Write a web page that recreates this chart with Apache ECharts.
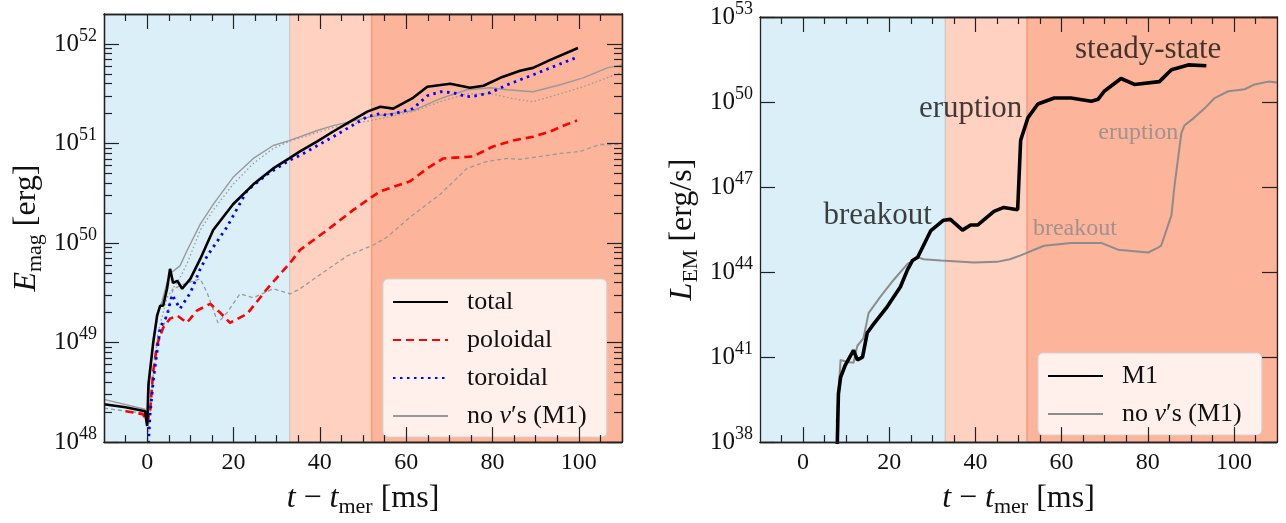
<!DOCTYPE html>
<html>
<head>
<meta charset="utf-8">
<script src="https://cdn.jsdelivr.net/npm/echarts@6/dist/echarts.min.js"></script>
<style>
  html, body { margin: 0; padding: 0; background: #fff; }
  #chart { width: 1286px; height: 523px; }
</style>
</head>
<body>
<div id="chart"></div>
<script>
// phase bands in t - t_mer [ms]
const bands = [[-10, 33], [33, 52], [52, 110]];

// ticks
const xMajor = [0, 20, 40, 60, 80, 100];
const xMinor = [-5, 5, 10, 15, 25, 30, 35, 45, 50, 55, 65, 70, 75, 85, 90, 95, 105];
const eMajor = [1e48, 1e49, 1e50, 1e51, 1e52];
const lMajor = [1e38, 1e41, 1e44, 1e47, 1e50, 1e53];

// left panel: E_mag [erg]  ([t, E])
const total = [[-10, 2.40e48], [-5, 2.24e48], [-0.5, 2.04e48], [0, 1.45e48], [0.3, 3.80e48], [1.4, 1.00e49],
  [2.3, 1.86e49], [3.0, 2.34e49], [3.7, 2.34e49], [4.6, 3.47e49], [5.3, 5.50e49], [6.0, 3.98e49], [7.0, 4.17e49],
  [8.1, 3.47e49], [10, 4.37e49], [12.3, 6.92e49], [15.3, 1.35e50], [19.9, 2.45e50], [24.6, 3.89e50],
  [29.2, 5.62e50], [32.9, 7.08e50], [35.4, 8.32e50], [39.4, 1.05e51], [43.1, 1.32e51], [47, 1.66e51],
  [51, 2.09e51], [54, 2.34e51], [57, 2.24e51], [61.6, 2.88e51], [64.9, 3.72e51], [70.2, 3.98e51],
  [74.8, 3.63e51], [77.9, 3.80e51], [81.8, 4.57e51], [86.4, 5.37e51], [89.4, 5.75e51], [93.4, 6.92e51],
  [99.8, 9.12e51]];
const poloidal = [[-5, 2.04e48], [-1, 1.91e48], [0, 1.58e48], [0.7, 2.09e48], [1.4, 5.13e48], [2.3, 9.55e48],
  [3.7, 1.41e49], [5.3, 1.74e49], [7.0, 1.86e49], [9.2, 1.58e49], [11.5, 2.09e49], [14.6, 2.45e49],
  [16.9, 2.00e49], [19.2, 1.58e49], [23.2, 1.95e49], [27.8, 3.47e49], [33.1, 6.31e49], [35.4, 8.51e49],
  [41.7, 1.35e50], [47.7, 2.14e50], [51.9, 2.88e50], [54, 3.31e50], [60.9, 4.17e50], [64.9, 5.62e50],
  [68.6, 7.08e50], [75.5, 7.41e50], [80.1, 9.33e50], [84.8, 1.07e51], [89.4, 1.17e51], [93.4, 1.32e51],
  [96.4, 1.51e51], [99.6, 1.70e51]];
const toroidal = [[0, 6.0e47], [0.7, 1.95e48], [1.4, 4.07e48], [3.0, 1.41e49], [4.6, 1.86e49], [5.3, 2.51e49],
  [5.8, 3.02e49], [7.6, 2.19e49], [10, 3.16e49], [12.3, 5.50e49], [13.9, 7.41e49], [18.5, 1.45e50],
  [23.2, 3.39e50], [27.8, 4.90e50], [32.9, 6.76e50], [35.4, 7.59e50], [43.1, 1.17e51], [51, 1.86e51],
  [54, 2.00e51], [55.6, 1.91e51], [61.6, 2.24e51], [64.9, 3.02e51], [67.9, 3.31e51], [70.9, 3.24e51],
  [74.1, 2.95e51], [76.4, 3.02e51], [79.5, 3.24e51], [83.4, 3.89e51], [89.4, 4.90e51], [94, 5.89e51],
  [99.8, 7.41e51]];
const noNuTotal = [[-10, 2.69e48], [-0.5, 2.14e48], [0, 1.58e48], [0.5, 3.98e48], [1.5, 1.12e49], [2.5, 2.00e49],
  [3.5, 2.63e49], [4.6, 3.98e49], [5.5, 5.01e49], [7.6, 5.89e49], [9.3, 8.51e49], [12.3, 1.55e50],
  [15.3, 2.45e50], [19.9, 4.57e50], [24.6, 7.08e50], [29.2, 9.55e50], [32.9, 1.07e51], [39.4, 1.35e51],
  [43.1, 1.51e51], [51.9, 1.86e51], [61.6, 2.14e51], [67.9, 2.82e51], [74.1, 3.47e51], [79.5, 3.63e51],
  [83.4, 3.47e51], [89.4, 3.31e51], [95.7, 3.89e51], [101, 4.57e51], [106.6, 5.75e51], [110, 6.17e51]];
const noNuToroidal = [[0, 8.0e47], [1, 3.16e48], [2.5, 1.26e49], [4.6, 2.82e49], [7.6, 4.47e49], [9.3, 6.31e49],
  [12.3, 1.35e50], [15.3, 2.14e50], [19.9, 3.89e50], [24.6, 6.31e50], [29.2, 8.91e50], [32.9, 1.05e51],
  [43.1, 1.45e51], [51.9, 1.70e51], [61.6, 2.09e51], [67.9, 2.63e51], [74.1, 3.16e51], [79.5, 3.16e51],
  [84.8, 2.82e51], [89.4, 2.63e51], [95.7, 3.16e51], [101, 3.72e51], [109.6, 5.13e51]];
const noNuPoloidal = [[-10, 2.19e48], [-0.9, 1.95e48], [0, 1.58e48], [1, 3.16e48], [2.5, 1.00e49], [4.6, 1.86e49],
  [6, 3.47e49], [9.3, 3.98e49], [12.3, 4.37e49], [13.9, 3.16e49], [16.4, 1.58e49], [18.5, 2.00e49],
  [21.5, 3.09e49], [24.6, 2.82e49], [29.2, 3.47e49], [33.1, 3.09e49], [35.4, 3.47e49], [40, 4.79e49],
  [46.3, 7.41e49], [52.4, 9.55e49], [55.6, 1.15e50], [60.9, 1.82e50], [67.9, 3.09e50], [74.1, 5.62e50],
  [78.8, 6.61e50], [83.4, 7.08e50], [86.4, 6.92e50], [95.7, 7.94e50], [100.3, 8.32e50], [104.9, 9.77e50],
  [109.6, 9.77e50]];

// right panel: L_EM [erg/s]  ([t, L])
const lumM1 = [[7.9, 5e37], [8.2, 5.01e39], [8.7, 1.91e40], [9.8, 5.25e40], [11.7, 1.74e41], [12.6, 7.94e40],
  [13.8, 1.00e41], [14.9, 7.24e41], [16.4, 1.48e42], [19.6, 6.17e42], [22.6, 3.02e43], [24.2, 1.17e44],
  [25.4, 2.57e44], [26.6, 3.31e44], [29.6, 2.82e45], [32.6, 6.76e45], [34.2, 7.24e45], [37, 3.02e45],
  [38.9, 4.57e45], [40.5, 4.57e45], [44.3, 1.38e46], [46.6, 1.91e46], [49.8, 1.58e46], [50.5, 4.47e48],
  [52.2, 2.82e49], [54.5, 8.51e49], [58.3, 1.38e50], [62.2, 1.38e50], [66.9, 1.07e50], [68.5, 1.26e50],
  [69.9, 2.40e50], [73.8, 6.76e50], [76.9, 4.17e50], [82.7, 5.25e50], [85.5, 1.38e51], [89.4, 2.04e51],
  [93.6, 1.91e51]];
const lumNoNu = [[7.8, 5e38], [8.7, 7.94e40], [10.3, 6.76e40], [11.7, 6.31e40], [12.6, 2.51e41], [14, 4.57e41],
  [15.2, 3.55e42], [18, 1.38e43], [21, 5.25e43], [24.2, 1.91e44], [26.6, 3.31e44], [28, 2.82e44],
  [32, 2.57e44], [39.7, 2.19e44], [45, 2.29e44], [48, 2.82e44], [50.5, 3.89e44], [55.9, 8.51e44],
  [62.2, 1.07e45], [69.2, 1.07e45], [73.1, 6.17e44], [80.1, 4.90e44], [82.4, 7.24e44], [83.1, 8.51e44],
  [85.5, 1.00e46], [86.2, 1.07e47], [87.8, 7.94e48], [88.5, 1.48e49], [90.8, 2.82e49], [93.1, 5.75e49],
  [95.5, 1.38e50], [98.7, 2.40e50], [102.5, 2.82e50], [104.8, 4.17e50], [108, 5.25e50], [110, 4.90e50]];

// annotations on the right panel: [t, L, text, colour, size]
const notes = [
  [80.1, 6.8e51, 'steady-state', '#111', 31],
  [38.9, 5.75e49, 'eruption', '#111', 31],
  [17.3, 9.3e45, 'breakout', '#111', 31],
  [77.8, 8.5e48, 'eruption', '#8a8a8a', 24],
  [63.1, 3.3e45, 'breakout', '#8a8a8a', 24]
];

const FONT = '"Liberation Serif", "DejaVu Serif", serif';
const AX = '#222';

// 2..9 x 10^e minor ticks of a log axis
function minorDecades(lo, hi, maxV) {
  const out = [];
  for (let e = lo; e <= hi; e++) {
    for (let k = 2; k <= 9; k++) {
      const v = k * Math.pow(10, e);
      if (v < maxV) out.push(v);
    }
  }
  return out;
}

const powRich = {
  b: { fontSize: 25, lineHeight: 34, fontFamily: FONT, color: '#111' },
  s: { fontSize: 18, lineHeight: 18, verticalAlign: 'top', fontFamily: FONT, color: '#111' }
};
function powLabel(v) {
  return '{b|10}{s|' + Math.round(Math.log10(v)) + '}';
}
const nameRich = {
  r: { fontSize: 32, fontFamily: FONT, color: '#111', lineHeight: 34 },
  i: { fontSize: 32, fontStyle: 'italic', fontFamily: FONT, color: '#111', lineHeight: 34 },
  sub: { fontSize: 22, fontFamily: FONT, color: '#111', lineHeight: 22, padding: [16, 0, 0, 0] }
};

function tick(vals, len) {
  return {
    show: true, inside: true, length: len, customValues: vals,
    lineStyle: { color: AX, width: 1.2, type: 'solid', opacity: 1 }
  };
}

// four x axes per grid: bottom/top, major and minor ticks
function xAxes(g, name) {
  const mk = extra => Object.assign({
    gridIndex: g, type: 'value', min: -10, max: 110, zlevel: 1,
    splitLine: { show: false },
    axisLine: { show: true, onZero: false, lineStyle: { color: AX, width: 1.3 } }
  }, extra);
  return [
    mk({
      position: 'bottom', name: name, nameLocation: 'middle', nameGap: 36,
      nameTextStyle: { rich: nameRich },
      axisTick: tick(xMajor, 15),
      axisLabel: { customValues: xMajor, fontSize: 24, fontFamily: FONT, color: '#111', margin: 9 }
    }),
    mk({ position: 'bottom', axisTick: tick(xMinor, 7), axisLabel: { show: false } }),
    mk({ position: 'top', axisTick: tick(xMajor, 15), axisLabel: { show: false } }),
    mk({ position: 'top', axisTick: tick(xMinor, 7), axisLabel: { show: false } })
  ];
}

// log y axes per grid: left/right, major and optional minor ticks
function yAxes(g, min, max, major, minor, name, gap) {
  const mk = extra => Object.assign({
    gridIndex: g, type: 'log', min: min, max: max, zlevel: 1,
    splitLine: { show: false },
    axisLine: { show: true, onZero: false, lineStyle: { color: AX, width: 1.3 } }
  }, extra);
  const list = [
    mk({
      position: 'left', name: name, nameLocation: 'middle', nameGap: gap, nameRotate: 90,
      nameTextStyle: { rich: nameRich },
      axisTick: tick(major, 15),
      axisLabel: { customValues: major, formatter: powLabel, rich: powRich, margin: 7 }
    }),
    mk({ position: 'right', axisTick: tick(major, 15), axisLabel: { show: false } })
  ];
  if (minor) {
    list.push(mk({ position: 'left', axisTick: tick(minor, 8), axisLabel: { show: false } }));
    list.push(mk({ position: 'right', axisTick: tick(minor, 8), axisLabel: { show: false } }));
  }
  return list;
}

// background phases, kept under the curves
function bandArea() {
  return {
    silent: true, z: -1,
    data: [
      [{ xAxis: bands[0][0], itemStyle: { color: '#dbeff8' } }, { xAxis: bands[0][1] }],
      [{ xAxis: bands[1][0], itemStyle: { color: '#fed1c0', borderColor: 'rgba(185,185,185,0.7)', borderWidth: 1.2 } }, { xAxis: bands[1][1] }],
      [{ xAxis: bands[2][0], itemStyle: { color: '#fcb49b', borderColor: '#f79d7c', borderWidth: 1.5 } }, { xAxis: bands[2][1] }]
    ]
  };
}

function line(name, data, xi, yi, color, width, type, extra) {
  return Object.assign({
    name: name, type: 'line', data: data, xAxisIndex: xi, yAxisIndex: yi,
    symbol: 'none', showSymbol: false, animation: false,
    itemStyle: { color: color },
    lineStyle: { color: color, width: width, type: type }
  }, extra || {});
}

const legendNames = {
  total: 'total', poloidal: 'poloidal', toroidal: 'toroidal',
  noNu: 'no {i|ν}′s (M1)', M1: 'M1', noNuR: 'no {i|ν}′s (M1)'
};
function legendAt(left, top, names) {
  return {
    left: left, top: top, data: names,
    orient: 'vertical', itemWidth: 55, itemHeight: 14, itemGap: 12,
    backgroundColor: 'rgba(255,255,255,0.8)', borderColor: '#d4d4d4', borderWidth: 1, borderRadius: 5,
    padding: [10, 20, 8, 9],
    itemStyle: { opacity: 0 },
    formatter: n => legendNames[n],
    textStyle: {
      fontSize: 26, fontFamily: FONT, color: '#111', lineHeight: 25, padding: [0, 0, 0, 14],
      rich: { i: { fontSize: 26, fontFamily: FONT, fontStyle: 'italic', color: '#111' } }
    }
  };
}

const chart = echarts.init(document.getElementById('chart'));
chart.setOption({
  animation: false,
  grid: [
    { left: 104, top: 14, width: 518, height: 435 },
    { left: 760, top: 14, width: 517, height: 435 }
  ],
  xAxis: xAxes(0, '{i|t}{r| − }{i|t}{sub|mer}{r| [ms]}').concat(xAxes(1, '{i|t}{r| − }{i|t}{sub|mer}{r| [ms]}')),
  yAxis: yAxes(0, 1e48, 2e52, eMajor, minorDecades(48, 52, 2e52), '{i|E}{sub|mag}{r| [erg]}', 60)
    .concat(yAxes(1, 1e38, 1e53, lMajor, null, '{i|L}{sub|EM}{r| [erg/s]}', 60)),
  legend: [
    legendAt(383, 279, ['total', 'poloidal', 'toroidal', 'noNu']),
    legendAt(1038, 353, ['M1', 'noNuR'])
  ],
  series: [
    line('noNuPol', noNuPoloidal, 0, 0, '#999', 1.3, [4, 3], { markArea: bandArea() }),
    line('noNuTor', noNuToroidal, 0, 0, '#999', 1.3, [1.5, 2.5]),
    line('noNu', noNuTotal, 0, 0, '#999', 1.4, 'solid'),
    line('poloidal', poloidal, 0, 0, '#ff0000', 2.6, [8, 5]),
    line('toroidal', toroidal, 0, 0, '#0000ff', 2.8, [2.5, 4.5]),
    line('total', total, 0, 0, '#000', 2.6, 'solid'),
    line('noNuR', lumNoNu, 4, 4, '#8c8c8c', 2, 'solid', { markArea: bandArea() }),
    line('M1', lumM1, 4, 4, '#000', 3.6, 'solid'),
    {
      name: 'notes', type: 'scatter', xAxisIndex: 4, yAxisIndex: 4, symbolSize: 1,
      itemStyle: { color: 'transparent' }, animation: false, silent: true,
      data: notes.map(n => ({
        value: [n[0], n[1]], name: n[2],
        label: { show: true, position: 'inside', formatter: n[2], color: n[3], fontSize: n[4], fontFamily: FONT }
      }))
    }
  ]
});
</script>
</body>
</html>
